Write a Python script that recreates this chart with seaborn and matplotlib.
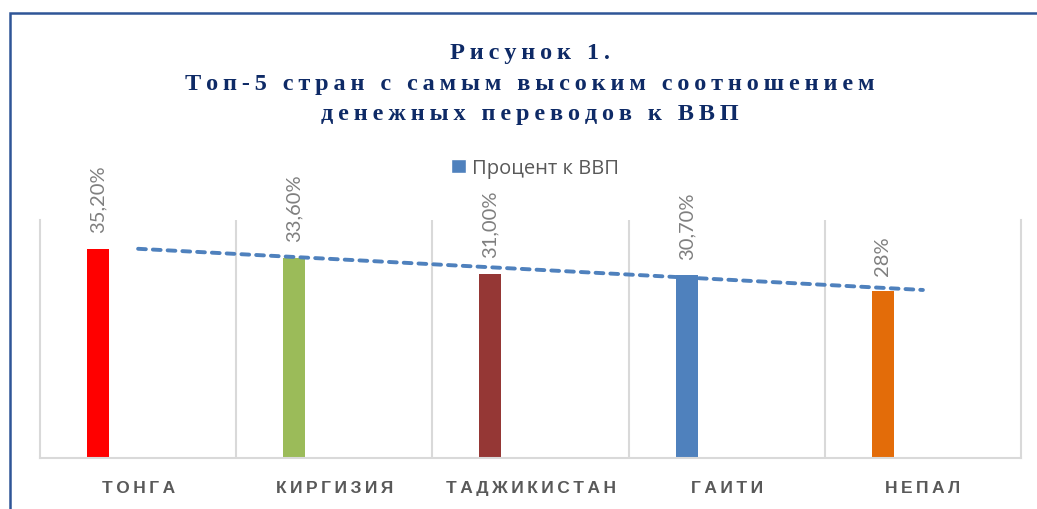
import numpy as np
import pandas as pd
import matplotlib
matplotlib.use("Agg")
import matplotlib.pyplot as plt
from matplotlib.patches import Patch, Rectangle
import seaborn as sns

# данные
countries = ["ТОНГА", "КИРГИЗИЯ", "ТАДЖИКИСТАН", "ГАИТИ", "НЕПАЛ"]
values = [35.2, 33.6, 31.0, 30.7, 28.0]
value_labels = ["35,20%", "33,60%", "31,00%", "30,70%", "28%"]
bar_colors = ["#FF0000", "#9BBB59", "#953735", "#4F81BD", "#E36C09"]
series_name = "Процент к ВВП"
title_lines = ["Рисунок 1.",
               "Топ-5 стран с самым высоким соотношением",
               "денежных переводов к ВВП"]

W, H = 1037, 510
TREND_COLOR = "#4F81BD"
GRID = "#D9D9D9"


def spaced(s, sep="\u2009"):
    # имитация разрядки букв
    return (sep + " " + sep).join(sep.join(w) for w in s.split(" "))


sns.set_theme(style="white")
plt.rcParams["font.family"] = ["Liberation Sans", "DejaVu Sans"]

fig = plt.figure(figsize=(W / 100, H / 100), dpi=100)
ax = fig.add_axes([40 / W, 1 - 459 / H, (1021 - 40) / W, (459 - 221) / H])

df = pd.DataFrame({"country": countries, "value": values})
sns.barplot(data=df, x="country", y="value", hue="country", palette=bar_colors,
            width=0.112, saturation=1, legend=False, ax=ax)

# сдвиг столбцов влево внутри категории (как в Excel с пустой второй серией)
for p in ax.patches:
    p.set_x(p.get_x() - 0.204)
    p.set_linewidth(0)

# подписи значений
for p, lab in zip(ax.patches, value_labels):
    ax.annotate(lab, (p.get_x() + p.get_width() / 2, p.get_height()),
                xytext=(0, 12), textcoords="offset points", rotation=90,
                ha="center", va="bottom", fontsize=14.5, color="#7F7F7F",
                family=["Lato", "DejaVu Sans"])

# линейный тренд
xs = np.arange(len(values))
coef = np.polyfit(xs, values, 1)
sns.lineplot(x=xs, y=np.polyval(coef, xs), ax=ax, color=TREND_COLOR, lw=2.8)
ln = ax.lines[-1]
ln.set_dashes((2.0, 1.8))
ln.set_dash_capstyle("round")

ax.set_xlim(-0.5, len(values) - 0.5)
ax.set_ylim(0, 40)
ax.set_yticks([])
ax.set_xlabel("")
ax.set_ylabel("")
ax.set_xticks(xs)
ax.set_xticklabels([spaced(c) for c in countries], fontsize=12.5,
                   fontweight="bold", color="#595959")
ax.tick_params(axis="x", length=0, pad=16)
ax.set_xticks(xs[:-1] + 0.5, minor=True)
ax.grid(which="minor", axis="x", color=GRID, lw=1.5)
ax.tick_params(which="minor", length=0)
for side in ["left", "right", "bottom"]:
    ax.spines[side].set_color(GRID)
    ax.spines[side].set_linewidth(1.5)
ax.spines["top"].set_visible(False)
ax.set_axisbelow(True)

# заголовок
baselines = [59, 90, 120]
for line, yb in zip(title_lines, baselines):
    fig.text(530 / W, 1 - yb / H, spaced(line), ha="center",
             va="baseline", fontsize=17.5, fontweight="bold", color="#0E2A66",
             family=["Liberation Serif", "DejaVu Serif"])

# легенда
fig.legend(handles=[Patch(facecolor=TREND_COLOR, label=series_name)],
           loc="center", bbox_to_anchor=(535 / W, 1 - 169 / H), frameon=False,
           labelcolor="#595959", handlelength=0.75,
           handleheight=0.75, handletextpad=0.3,
           prop={"family": ["Open Sans", "DejaVu Sans"], "size": 14.5})

# рамка
fig.patches.append(Rectangle((10 / W, -0.1), 1.2, 1 - 14 / H + 0.1,
                             transform=fig.transFigure, fill=False,
                             edgecolor="#2F5597", lw=1.8))

fig.savefig("out.png", dpi=100)
